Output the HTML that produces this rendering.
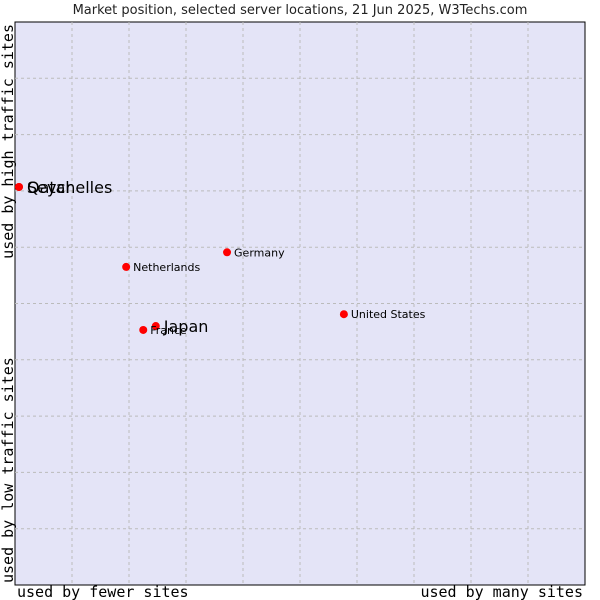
<!DOCTYPE html>
<html><head><meta charset="utf-8"><style>
body{margin:0;background:#fff;width:600px;height:600px;overflow:hidden}
svg{display:block}
</style></head><body>
<svg id="chart" width="600" height="600">
<text x="300" y="14" text-anchor="middle" font-family="DejaVu Sans, sans-serif" font-size="13" fill="#222">Market position, selected server locations, 21 Jun 2025, W3Techs.com</text>
<rect x="15" y="22" width="570" height="563" fill="#e4e4f7" stroke="#000" stroke-width="1"/>
<g id="grid"></g>
<g id="points"></g>
<text x="17" y="597" font-family="DejaVu Sans Mono, monospace" font-size="15" fill="#000">used by fewer sites</text>
<text x="583" y="597" text-anchor="end" font-family="DejaVu Sans Mono, monospace" font-size="15" fill="#000">used by many sites</text>
<text transform="translate(13,583) rotate(-90)" font-family="DejaVu Sans Mono, monospace" font-size="15" fill="#000">used by low traffic sites</text>
<text transform="translate(13,24) rotate(-90)" text-anchor="end" font-family="DejaVu Sans Mono, monospace" font-size="15" fill="#000">used by high traffic sites</text>
</svg>
<script>
const names = ["Seychelles","Qatar","Netherlands","Germany","United States","Japan","France"];
const xValues = [0.7,0.7,19.5,37.2,57.7,24.7,22.5];
const yValues = [70.7,70.7,56.5,59.1,48.1,46.0,45.3];
const bigLabel = [true,true,false,false,false,true,false];
const NS="http://www.w3.org/2000/svg";
const L=15,T=22,W=570,H=563;
const sx=v=>L+v/100*W, sy=v=>T+H-v/100*H;
const grid=document.getElementById('grid');
for(let i=1;i<10;i++){
  const x=L+i*W/10, y=T+i*H/10;
  const a=document.createElementNS(NS,'line');
  a.setAttribute('x1',x);a.setAttribute('x2',x);a.setAttribute('y1',T);a.setAttribute('y2',T+H);
  a.setAttribute('stroke','#bbb');a.setAttribute('stroke-dasharray','3,3');
  
  
  grid.appendChild(a);
  const b=document.createElementNS(NS,'line');
  b.setAttribute('y1',y);b.setAttribute('y2',y);b.setAttribute('x1',L);b.setAttribute('x2',L+W);
  b.setAttribute('stroke','#bbb');b.setAttribute('stroke-dasharray','3,3');
  
  
  grid.appendChild(b);
}
const pts=document.getElementById('points');
names.forEach((n,i)=>{
  const x=sx(xValues[i]), y=sy(yValues[i]);
  const c=document.createElementNS(NS,'circle');
  c.setAttribute('cx',x);c.setAttribute('cy',y);c.setAttribute('r',4);c.setAttribute('fill','#f00');
  
  
  pts.appendChild(c);
  const t=document.createElementNS(NS,'text');
  t.setAttribute('x',x+(bigLabel[i]?8:7));t.setAttribute('y',y+(bigLabel[i]?6:4));
  t.setAttribute('font-family','DejaVu Sans, sans-serif');
  t.setAttribute('font-size',bigLabel[i]?16:11);
  t.setAttribute('fill','#000');
  t.textContent=n;
  
  
  pts.appendChild(t);
});
</script>
</body></html>
